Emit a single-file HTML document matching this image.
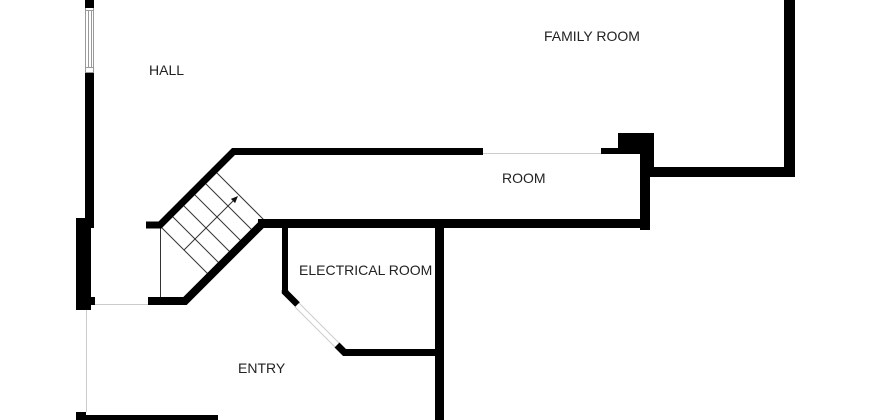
<!DOCTYPE html>
<html><head><meta charset="utf-8"><style>
html,body{margin:0;padding:0;background:#fff;}
svg{display:block;}
text{font-family:"Liberation Sans",Arial,sans-serif;font-size:14px;fill:#222;}
</style></head><body>
<svg width="870" height="420" viewBox="0 0 870 420" xmlns="http://www.w3.org/2000/svg">
<rect x="0" y="0" width="870" height="420" fill="#fff"/>

<!-- stair treads -->
<g stroke="#333" stroke-width="1" fill="none">
<line x1="157" y1="223" x2="210" y2="276"/>
<line x1="168" y1="212" x2="221" y2="265"/>
<line x1="179" y1="201" x2="232" y2="254"/>
<line x1="190" y1="190" x2="243" y2="243"/>
<line x1="201" y1="179" x2="254" y2="232"/>
<line x1="212" y1="168" x2="265" y2="221"/>
<line x1="160.5" y1="228" x2="160.5" y2="298"/>
<line x1="184" y1="250" x2="234" y2="200"/>
</g>
<polygon points="238,196 235.1,203.1 230.9,198.9" fill="#111"/>

<!-- light door/opening lines -->
<g stroke="#ccc" stroke-width="1" fill="none">
<line x1="95" y1="304.5" x2="148" y2="304.5"/>
<line x1="86.5" y1="310" x2="86.5" y2="412"/>
<line x1="483" y1="153.5" x2="601" y2="153.5"/>
<line x1="299" y1="303" x2="339" y2="343"/>
<line x1="295" y1="307" x2="335" y2="347"/>
</g>

<!-- window on left wall -->
<g stroke="#999" stroke-width="1" fill="none">
<line x1="85.5" y1="8" x2="85.5" y2="73"/>
<line x1="93.5" y1="8" x2="93.5" y2="73"/>
<line x1="88.5" y1="10" x2="88.5" y2="67"/>
<line x1="91.5" y1="10" x2="91.5" y2="67"/>
<line x1="85" y1="10.5" x2="94" y2="10.5"/>
<line x1="85" y1="67.5" x2="94" y2="67.5"/>
<line x1="85" y1="72.5" x2="94" y2="72.5"/>
</g>

<!-- walls -->
<g fill="#000">
<rect x="85" y="0" width="9" height="8"/>
<rect x="85" y="73" width="9" height="155"/>
<rect x="76" y="218" width="15" height="92"/>
<rect x="86" y="297" width="9" height="8"/>
<rect x="76" y="412" width="10" height="8"/>
<rect x="76" y="415" width="142" height="5"/>

<rect x="618" y="133" width="36" height="21"/>
<rect x="640" y="133" width="14" height="44"/>
<rect x="640" y="148" width="10" height="82"/>
<rect x="650" y="167" width="145" height="10"/>
<rect x="784" y="0" width="11" height="177"/>
<rect x="601" y="148" width="40" height="6"/>

<rect x="258" y="219" width="392" height="9"/>
<rect x="435" y="226" width="9" height="194"/>
<rect x="282" y="226" width="6" height="67"/>
</g>
<g stroke="#000" fill="none" stroke-linejoin="miter" stroke-miterlimit="10">
<polyline points="146,225 160,225 233.5,151.5 483,151.5" stroke-width="7"/>
<polyline points="148,301 185,301 263,223 268,223" stroke-width="8"/>
<polyline points="285,290 285,292 297.5,304.5" stroke-width="6.5"/>
<polyline points="337,345 344.5,352.5 436,352.5" stroke-width="7"/>
</g>

<!-- labels -->
<text x="149" y="75">HALL</text>
<text x="544" y="41">FAMILY ROOM</text>
<text x="502" y="183">ROOM</text>
<text x="299" y="275">ELECTRICAL ROOM</text>
<text x="238" y="373">ENTRY</text>
</svg>
</body></html>
